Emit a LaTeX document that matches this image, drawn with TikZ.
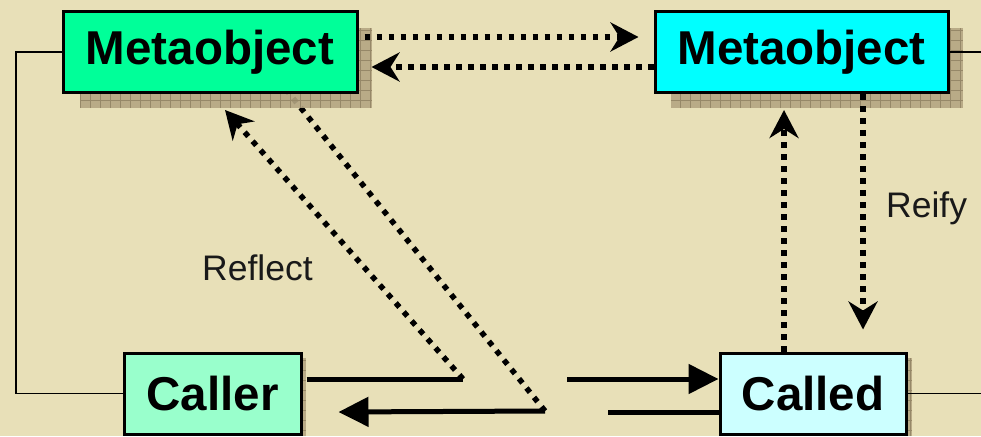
\documentclass[tikz,border=0pt]{standalone}
\usepackage{fontspec}
\setmainfont{Liberation Sans}
\usetikzlibrary{arrows.meta,calc}
\definecolor{bgtan}{RGB}{232,224,184}
\definecolor{shadowtan}{RGB}{180,166,130}
\definecolor{shadowgrid}{RGB}{150,136,104}
\definecolor{metagreen}{RGB}{0,255,153}
\definecolor{metacyan}{RGB}{0,255,255}
\definecolor{callergreen}{RGB}{153,255,204}
\definecolor{calledcyan}{RGB}{204,255,255}
\definecolor{labelgray}{RGB}{25,25,25}
\tikzset{
  objbox/.style={draw=black, line width=3pt, minimum height=81pt, inner sep=0pt,
    font=\fontsize{47.5}{50}\selectfont\bfseries, text=black},
  dotline/.style={line width=5.5pt, dash pattern=on 5.5pt off 6.5pt, line cap=butt},
  dottip/.style={-{Stealth[length=28pt,width=29pt,inset=9pt]}},
  solidline/.style={line width=5pt},
  solidtip/.style={-{Triangle[length=30pt,width=29pt]}},
  thinline/.style={line width=1.6pt},
  lbl/.style={font=\fontsize{35.5}{38}\selectfont, text=labelgray, inner sep=0pt}
}
\newcommand{\gridshadow}[4]{%
  \fill[shadowtan, opacity=0.9] (#1,#2) rectangle (#3,#4);
  \begin{scope}
    \clip (#1,#2) rectangle (#3,#4);
    \draw[shadowgrid, line width=0.5pt, step=10pt] (#1,#2) grid (#3,#4);
  \end{scope}}
\begin{document}
\begin{tikzpicture}[x=1pt, y=-1pt]
  \fill[bgtan] (0,0) rectangle (981,436);
  \useasboundingbox (0,0) rectangle (981,436);

  % free ends of the message lines
  \coordinate (r1) at (463,379);
  \coordinate (r2) at (545,411);
  \coordinate (c1) at (567,379);
  \coordinate (c2) at (608,412);
  \coordinate (lx) at (16,0);
  \coordinate (rx) at (981,0);

  % reification line running under the left metaobject
  \draw[dotline] (r2) -- (288,92);

  % drop shadows
  \gridshadow{80}{28}{372}{108}
  \gridshadow{671}{28}{963}{108}
  \gridshadow{129}{358}{306}{436}
  \gridshadow{725}{358}{912}{436}

  % objects
  \node[objbox, fill=metagreen, minimum width=294pt] (m1) at (210,52) {Metaobject};
  \node[objbox, fill=metacyan, minimum width=293pt] (m2) at (801.5,52) {Metaobject};
  \node[objbox, fill=callergreen, minimum width=177pt] (caller) at (212.5,393.5) {Caller};
  \node[objbox, fill=calledcyan, minimum width=186pt] (called) at (813,393.5) {Called};

  % thin links to the frame
  \draw[thinline] (m1.west) -- (m1.west -| lx) |- (caller.west);
  \draw[thinline] (m2.east) -- (m2.east -| rx);
  \draw[thinline] (called.east) -- (called.east -| rx);

  % metaobject protocol
  \draw[dotline, dottip] ([xshift=6pt, yshift=15pt]m1.east) -- ([xshift=-15pt, yshift=15pt]m2.west);
  \draw[dotline, dottip] ([yshift=-15pt]m2.west) -- ([xshift=13pt, yshift=-15pt]m1.east);

  % reflect / reify
  \draw[dotline, dottip] (r1) -- ([xshift=15pt, yshift=-16pt]m1.south);
  \draw[dotline, dottip] ([xshift=-29pt]called.north) -- ([xshift=-17.5pt, yshift=-16pt]m2.south);
  \draw[dotline, dottip] ([xshift=61.5pt]m2.south) -- ([xshift=50pt, yshift=22pt]called.north);

  % base-level call and return
  \draw[solidline] ([xshift=4pt, yshift=14.5pt]caller.east) -- (r1);
  \draw[solidline, solidtip] (r2) -- ([xshift=36pt, yshift=-18.5pt]caller.east);
  \draw[solidline, solidtip] (c1) -- ([yshift=14.5pt]called.west);
  \draw[solidline] ([yshift=-18.5pt]called.west) -- (c2);

  % labels
  \node[lbl, anchor=base west] (reflect) at (202,280) {Reflect};
  \node[lbl, anchor=base west] (reify) at (886,217) {Reify};
\end{tikzpicture}
\end{document}
